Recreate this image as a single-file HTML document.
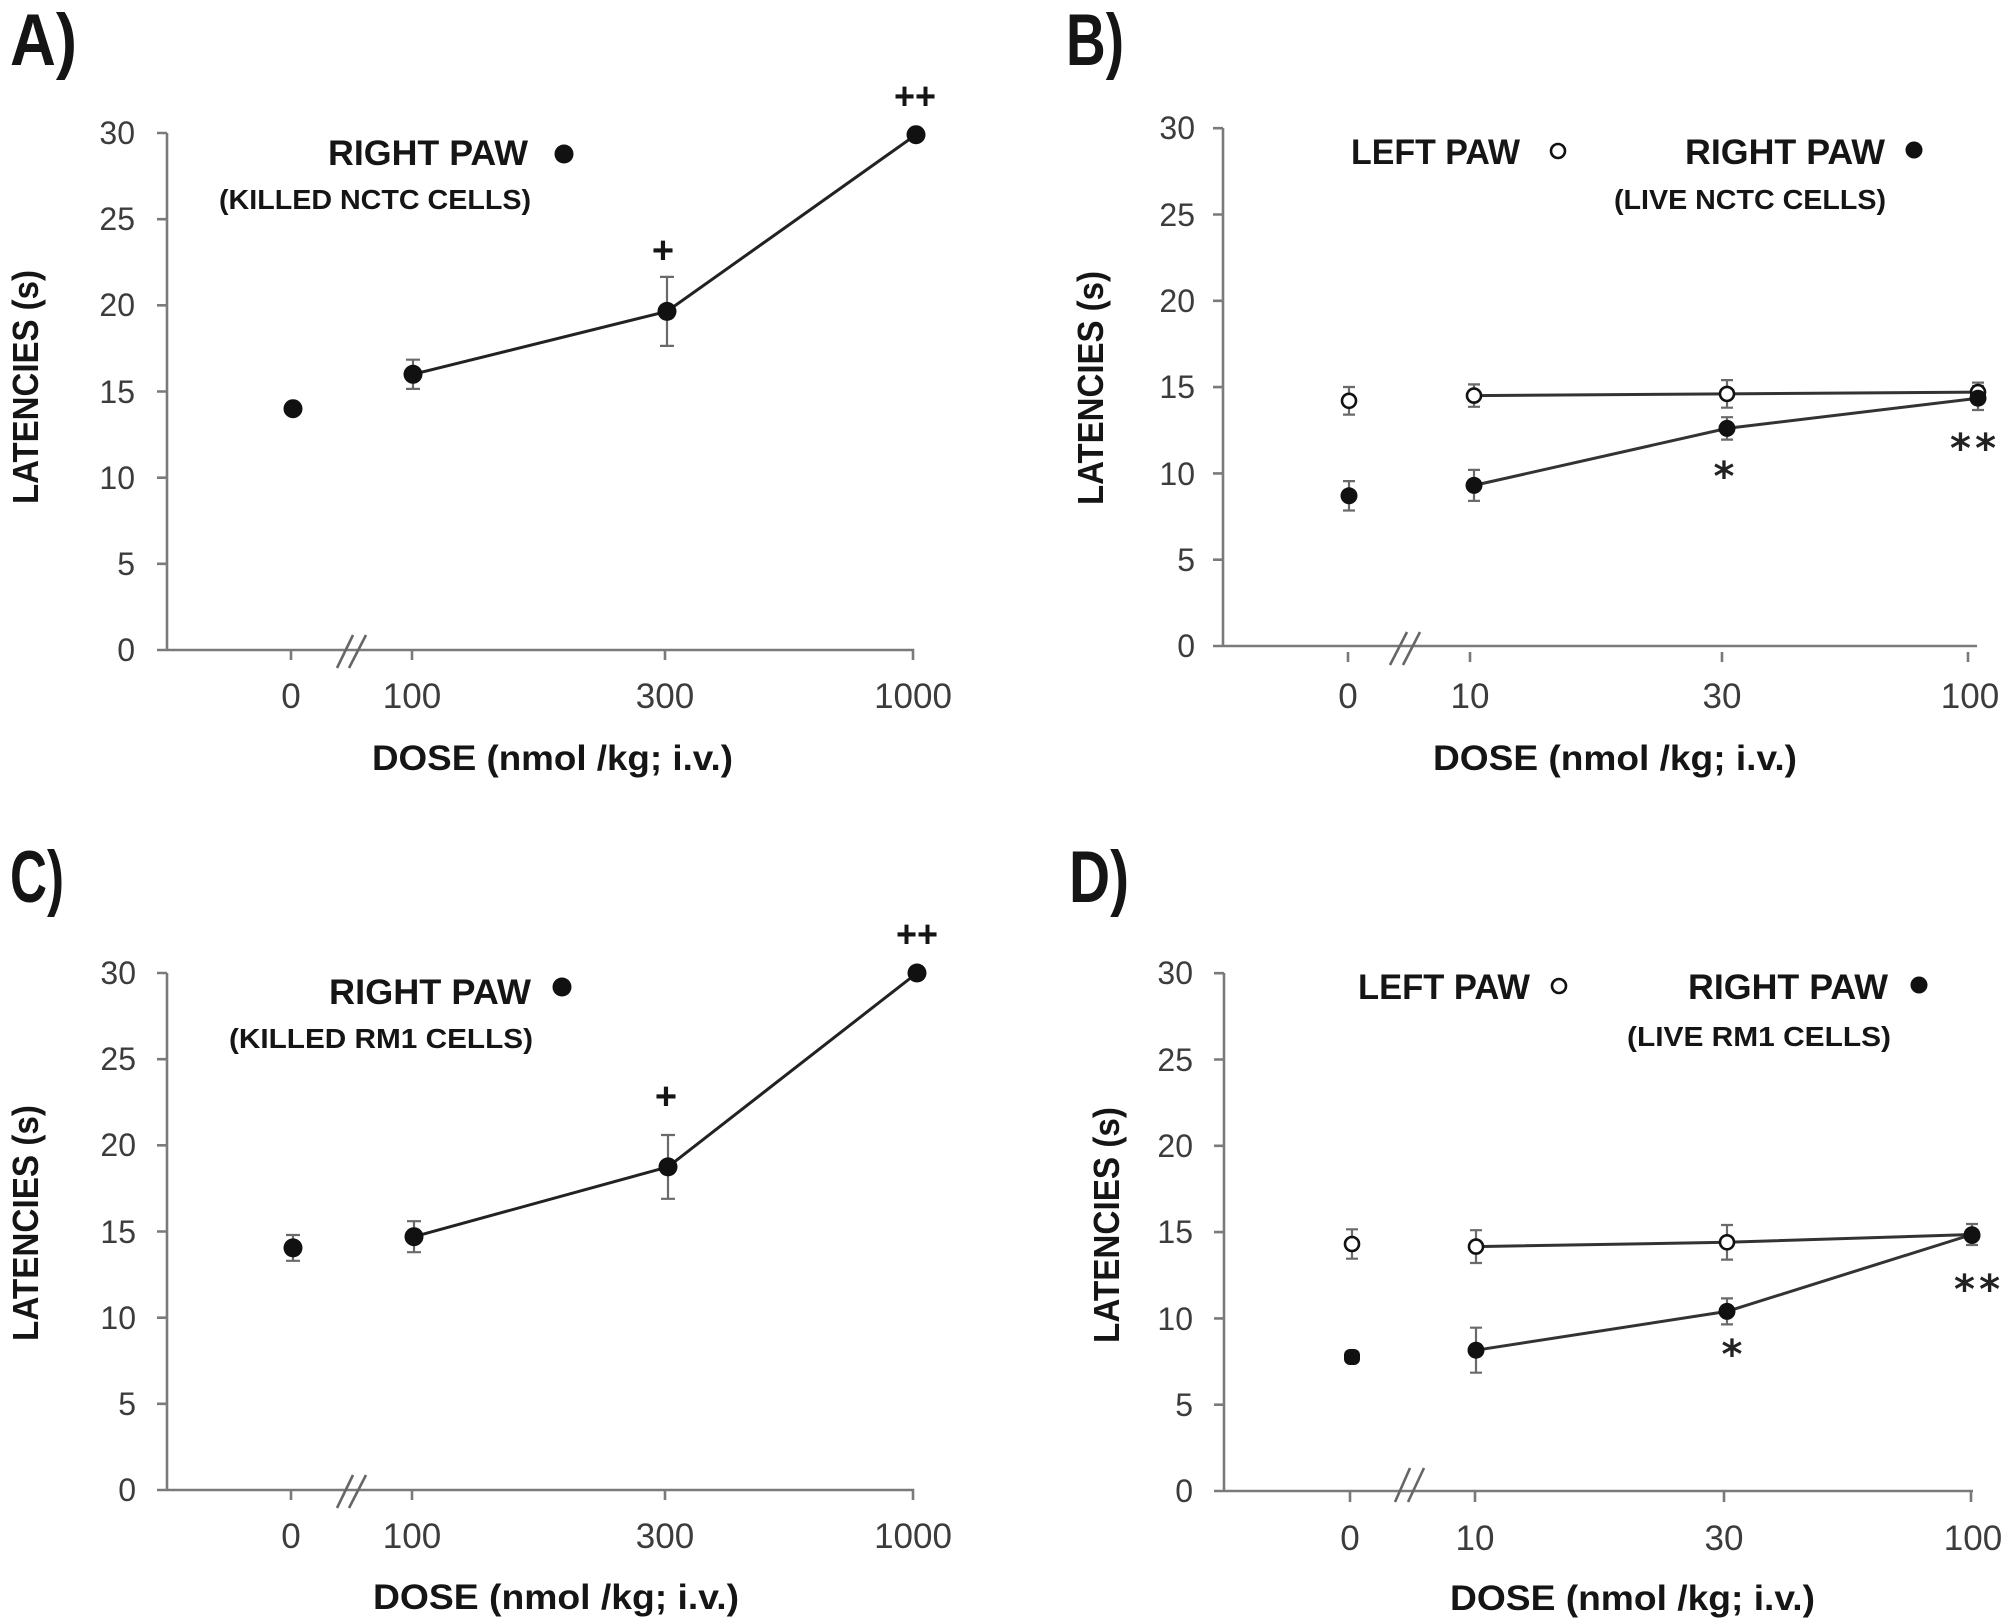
<!DOCTYPE html>
<html>
<head>
<meta charset="utf-8">
<style>
html,body{margin:0;padding:0;background:#fff;}
svg{display:block;}
.tk{font-family:"Liberation Sans",Arial,sans-serif;font-size:32px;fill:#3c3c3c;}
.tx{font-family:"Liberation Sans",Arial,sans-serif;font-size:35px;fill:#3c3c3c;text-anchor:middle;}
.bl{font-family:"Liberation Sans",Arial,sans-serif;font-weight:bold;fill:#151515;}
.ast{font-family:"DejaVu Sans","Liberation Sans",sans-serif;font-weight:bold;fill:#222;text-anchor:middle;}
.ax{stroke:#7a7a7a;stroke-width:2.6;fill:none;}
.eb{stroke:#6a6a6a;stroke-width:2.2;fill:none;}
.ln{stroke:#222;stroke-width:3;fill:none;}
.ln2{stroke:#333;stroke-width:3;fill:none;}
.brk{stroke:#666;stroke-width:2.6;fill:none;}
</style>
</head>
<body>
<svg width="2010" height="1622" viewBox="0 0 2010 1622" xmlns="http://www.w3.org/2000/svg">
<rect width="2010" height="1622" fill="#fff"/>

<!-- ================= PANEL A ================= -->
<text class="bl" x="10" y="65" font-size="73" textLength="67" lengthAdjust="spacingAndGlyphs">A)</text>
<path class="ax" d="M167,133 L167,650 M157,650 L913,650 L913,660"/>
<path class="ax" d="M157,133 H167 M157,219.2 H167 M157,305.3 H167 M157,391.5 H167 M157,477.7 H167 M157,563.8 H167 M291,650 V660 M412,650 V660 M665,650 V660"/>
<path class="brk" d="M337,668 L353,635 M349,668 L366,635"/>
<g class="tk" text-anchor="end">
<text x="135" y="661">0</text>
<text x="135" y="575">5</text>
<text x="135" y="489">10</text>
<text x="135" y="403">15</text>
<text x="135" y="316">20</text>
<text x="135" y="230">25</text>
<text x="135" y="144">30</text>
</g>
<g class="tx">
<text x="291" y="708">0</text>
<text x="412" y="708">100</text>
<text x="665" y="708">300</text>
<text x="913" y="708">1000</text>
</g>
<text class="bl" x="372" y="770" font-size="35" textLength="361" lengthAdjust="spacingAndGlyphs">DOSE (nmol /kg; i.v.)</text>
<text class="bl" font-size="36" transform="translate(38,504) rotate(-90)" textLength="234" lengthAdjust="spacingAndGlyphs">LATENCIES (s)</text>
<text class="bl" x="328" y="165" font-size="35" textLength="200" lengthAdjust="spacingAndGlyphs">RIGHT PAW</text>
<circle cx="564" cy="154" r="9.5" fill="#111"/>
<text class="bl" x="219" y="209" font-size="28" textLength="312" lengthAdjust="spacingAndGlyphs">(KILLED NCTC CELLS)</text>
<path class="eb" d="M413,359.7 V388.9 M406,359.7 H420 M406,388.9 H420"/>
<path class="eb" d="M667,276.9 V345.9 M660,276.9 H674 M660,345.9 H674"/>
<polyline class="ln" points="413,374.3 667,311.4 916,134.7"/>
<circle cx="293" cy="408.7" r="9.5" fill="#111"/>
<circle cx="413" cy="374.3" r="9.5" fill="#111"/>
<circle cx="667" cy="311.4" r="9.5" fill="#111"/>
<circle cx="916" cy="134.7" r="9.5" fill="#111"/>
<text class="bl" x="663" y="263" font-size="38" text-anchor="middle">+</text>
<text class="bl" x="915" y="109" font-size="38" text-anchor="middle" textLength="42" lengthAdjust="spacingAndGlyphs">++</text>

<!-- ================= PANEL B ================= -->
<text class="bl" x="1066" y="65" font-size="73" textLength="58" lengthAdjust="spacingAndGlyphs">B)</text>
<path class="ax" d="M1223,128 L1223,646 M1213,646 L1977,646"/>
<path class="ax" d="M1213,128.2 H1223 M1213,214.5 H1223 M1213,300.8 H1223 M1213,387.1 H1223 M1213,473.4 H1223 M1213,559.7 H1223 M1348,652 V662 M1470,652 V662 M1722,652 V662 M1968,652 V662"/>
<path class="brk" d="M1390,665 L1407,632 M1403,665 L1420,632"/>
<g class="tk" text-anchor="end">
<text x="1195" y="657">0</text>
<text x="1195" y="571">5</text>
<text x="1195" y="485">10</text>
<text x="1195" y="398">15</text>
<text x="1195" y="312">20</text>
<text x="1195" y="226">25</text>
<text x="1195" y="139">30</text>
</g>
<g class="tx">
<text x="1348" y="708">0</text>
<text x="1470" y="708">10</text>
<text x="1722" y="708">30</text>
<text x="1970" y="708">100</text>
</g>
<text class="bl" x="1433" y="770" font-size="35" textLength="364" lengthAdjust="spacingAndGlyphs">DOSE (nmol /kg; i.v.)</text>
<text class="bl" font-size="36" transform="translate(1103,505) rotate(-90)" textLength="234" lengthAdjust="spacingAndGlyphs">LATENCIES (s)</text>
<text class="bl" x="1351" y="164" font-size="35" textLength="169" lengthAdjust="spacingAndGlyphs">LEFT PAW</text>
<circle cx="1558" cy="151" r="7" fill="#fff" stroke="#111" stroke-width="2.6"/>
<text class="bl" x="1685" y="164" font-size="35" textLength="200" lengthAdjust="spacingAndGlyphs">RIGHT PAW</text>
<circle cx="1914" cy="150" r="8.5" fill="#111"/>
<text class="bl" x="1614" y="209" font-size="28" textLength="272" lengthAdjust="spacingAndGlyphs">(LIVE NCTC CELLS)</text>
<path class="eb" d="M1349,387 V414.6 M1343,387 H1355 M1343,414.6 H1355
 M1474,384.4 V406.8 M1468,384.4 H1480 M1468,406.8 H1480
 M1727,380.1 V407.7 M1721,380.1 H1733 M1721,407.7 H1733
 M1978,382.6 V401.6 M1972,382.6 H1984 M1972,401.6 H1984
 M1349,481.1 V510.5 M1343,481.1 H1355 M1343,510.5 H1355
 M1474,469.9 V500.9 M1468,469.9 H1480 M1468,500.9 H1480
 M1727,417.2 V439.6 M1721,417.2 H1733 M1721,439.6 H1733
 M1978,386 V410 M1972,386 H1984 M1972,410 H1984"/>
<polyline class="ln2" points="1474,395.6 1727,393.9 1978,392.1"/>
<polyline class="ln2" points="1474,485.4 1727,428.4 1978,398.2"/>
<circle cx="1349" cy="400.8" r="7" fill="#fff" stroke="#111" stroke-width="2.6"/>
<circle cx="1474" cy="395.6" r="7" fill="#fff" stroke="#111" stroke-width="2.6"/>
<circle cx="1727" cy="393.9" r="7" fill="#fff" stroke="#111" stroke-width="2.6"/>
<circle cx="1978" cy="392.1" r="7" fill="#fff" stroke="#111" stroke-width="2.6"/>
<circle cx="1349" cy="495.8" r="8.5" fill="#111"/>
<circle cx="1474" cy="485.4" r="8.5" fill="#111"/>
<circle cx="1727" cy="428.4" r="8.5" fill="#111"/>
<circle cx="1978" cy="398.2" r="8.5" fill="#111"/>
<text class="ast" x="1724" y="490" font-size="40">*</text>
<text class="ast" x="1973" y="462" font-size="40" textLength="46" lengthAdjust="spacing">**</text>

<!-- ================= PANEL C ================= -->
<text class="bl" x="10" y="902" font-size="73" textLength="54" lengthAdjust="spacingAndGlyphs">C)</text>
<path class="ax" d="M167,973 L167,1490 M157,1490 L913,1490 L913,1500"/>
<path class="ax" d="M157,973 H167 M157,1059.2 H167 M157,1145.3 H167 M157,1231.5 H167 M157,1317.7 H167 M157,1403.8 H167 M291,1490 V1500 M412,1490 V1500 M665,1490 V1500"/>
<path class="brk" d="M337,1508 L353,1475 M349,1508 L366,1475"/>
<g class="tk" text-anchor="end">
<text x="136" y="1501">0</text>
<text x="136" y="1415">5</text>
<text x="136" y="1329">10</text>
<text x="136" y="1243">15</text>
<text x="136" y="1156">20</text>
<text x="136" y="1070">25</text>
<text x="136" y="984">30</text>
</g>
<g class="tx">
<text x="291" y="1548">0</text>
<text x="412" y="1548">100</text>
<text x="665" y="1548">300</text>
<text x="913" y="1548">1000</text>
</g>
<text class="bl" x="373" y="1609" font-size="35" textLength="366" lengthAdjust="spacingAndGlyphs">DOSE (nmol /kg; i.v.)</text>
<text class="bl" font-size="36" transform="translate(38,1341) rotate(-90)" textLength="236" lengthAdjust="spacingAndGlyphs">LATENCIES (s)</text>
<text class="bl" x="329" y="1004" font-size="35" textLength="202" lengthAdjust="spacingAndGlyphs">RIGHT PAW</text>
<circle cx="562" cy="987" r="9.5" fill="#111"/>
<text class="bl" x="229" y="1048" font-size="28" textLength="304" lengthAdjust="spacingAndGlyphs">(KILLED RM1 CELLS)</text>
<path class="eb" d="M293,1235 V1260.8 M286,1235 H300 M286,1260.8 H300
 M414,1221.2 V1252.2 M407,1221.2 H421 M407,1252.2 H421
 M668,1135 V1198.8 M661,1135 H675 M661,1198.8 H675"/>
<polyline class="ln" points="414,1236.7 668,1166.9 917,973"/>
<circle cx="293" cy="1247.9" r="9.5" fill="#111"/>
<circle cx="414" cy="1236.7" r="9.5" fill="#111"/>
<circle cx="668" cy="1166.9" r="9.5" fill="#111"/>
<circle cx="917" cy="973" r="9.5" fill="#111"/>
<text class="bl" x="666" y="1109" font-size="38" text-anchor="middle">+</text>
<text class="bl" x="917" y="947" font-size="38" text-anchor="middle" textLength="42" lengthAdjust="spacingAndGlyphs">++</text>

<!-- ================= PANEL D ================= -->
<text class="bl" x="1069" y="902" font-size="73" textLength="60" lengthAdjust="spacingAndGlyphs">D)</text>
<path class="ax" d="M1224,973 L1224,1491 M1214,1491 L1973,1491"/>
<path class="ax" d="M1214,973.2 H1224 M1214,1059.5 H1224 M1214,1145.8 H1224 M1214,1232.1 H1224 M1214,1318.4 H1224 M1214,1404.7 H1224 M1350,1491 V1502 M1475,1491 V1502 M1724,1491 V1502 M1971,1491 V1502"/>
<path class="brk" d="M1395,1502 L1410,1468 M1408,1502 L1424,1468"/>
<g class="tk" text-anchor="end">
<text x="1193" y="1502">0</text>
<text x="1193" y="1416">5</text>
<text x="1193" y="1330">10</text>
<text x="1193" y="1243">15</text>
<text x="1193" y="1157">20</text>
<text x="1193" y="1071">25</text>
<text x="1193" y="984">30</text>
</g>
<g class="tx">
<text x="1350" y="1550">0</text>
<text x="1475" y="1550">10</text>
<text x="1724" y="1550">30</text>
<text x="1973" y="1550">100</text>
</g>
<text class="bl" x="1450" y="1610" font-size="35" textLength="365" lengthAdjust="spacingAndGlyphs">DOSE (nmol /kg; i.v.)</text>
<text class="bl" font-size="36" transform="translate(1119,1343) rotate(-90)" textLength="236" lengthAdjust="spacingAndGlyphs">LATENCIES (s)</text>
<text class="bl" x="1358" y="999" font-size="35" textLength="172" lengthAdjust="spacingAndGlyphs">LEFT PAW</text>
<circle cx="1559" cy="986" r="7" fill="#fff" stroke="#111" stroke-width="2.6"/>
<text class="bl" x="1688" y="999" font-size="35" textLength="200" lengthAdjust="spacingAndGlyphs">RIGHT PAW</text>
<circle cx="1919" cy="985" r="8.5" fill="#111"/>
<text class="bl" x="1627" y="1046" font-size="28" textLength="264" lengthAdjust="spacingAndGlyphs">(LIVE RM1 CELLS)</text>
<path class="eb" d="M1352,1229.3 V1258.7 M1346,1229.3 H1358 M1346,1258.7 H1358
 M1476,1230.2 V1263 M1470,1230.2 H1482 M1470,1263 H1482
 M1727,1225 V1259.6 M1721,1225 H1733 M1721,1259.6 H1733
 M1972,1224 V1245 M1966,1224 H1978 M1966,1245 H1978
 M1352,1352 V1362 M1346,1352 H1358 M1346,1362 H1358
 M1476,1327.7 V1372.7 M1470,1327.7 H1482 M1470,1372.7 H1482
 M1727,1298.4 V1324.4 M1721,1298.4 H1733 M1721,1324.4 H1733"/>
<polyline class="ln2" points="1476,1246.6 1727,1242.3 1972,1234.5"/>
<polyline class="ln2" points="1476,1350.2 1727,1311.4 1972,1234.5"/>
<circle cx="1352" cy="1244" r="7" fill="#fff" stroke="#111" stroke-width="2.6"/>
<circle cx="1476" cy="1246.6" r="7" fill="#fff" stroke="#111" stroke-width="2.6"/>
<circle cx="1727" cy="1242.3" r="7" fill="#fff" stroke="#111" stroke-width="2.6"/>
<circle cx="1972" cy="1234.5" r="7" fill="#fff" stroke="#111" stroke-width="2.6"/>
<rect x="1344" y="1349" width="16" height="16" rx="6" fill="#111"/>
<circle cx="1476" cy="1350.2" r="8.5" fill="#111"/>
<circle cx="1727" cy="1311.4" r="8.5" fill="#111"/>
<circle cx="1972" cy="1235.5" r="8.5" fill="#111"/>
<text class="ast" x="1732" y="1368" font-size="40">*</text>
<text class="ast" x="1977" y="1303" font-size="40" textLength="46" lengthAdjust="spacing">**</text>
</svg>
</body>
</html>
